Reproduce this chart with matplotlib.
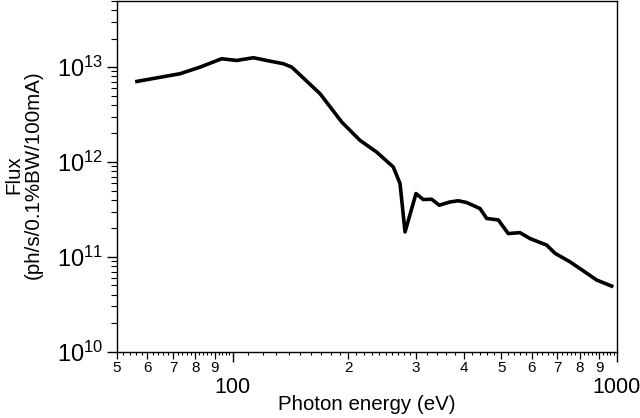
import matplotlib
matplotlib.use("Agg")
import matplotlib.pyplot as plt
import matplotlib.ticker as mticker
import numpy as np

plt.rcParams['font.family'] = ['Liberation Sans', 'DejaVu Sans']
plt.rcParams['mathtext.fontset'] = 'custom'
plt.rcParams['mathtext.rm'] = 'Liberation Sans'
plt.rcParams['mathtext.it'] = 'Liberation Sans:italic'

# photon energy (eV) and flux (ph/s/0.1%BW/100mA)
energy = [56.4, 73.0, 82.3, 93.7, 102.5, 113.3, 125.2, 135.6, 142.6, 168.9,
          192.3, 214.6, 237.2, 261.9, 272.7, 281.0, 300.1, 313.5, 329.6, 345.0,
          367.9, 386.6, 406.5, 440.3, 458.3, 491.2, 521.5, 559.3, 593.8, 656.5,
          690.0, 754.7, 817.5, 885.8, 930.8, 968.7]
flux = [7.07e12, 8.52e12, 1.0e13, 1.226e13, 1.176e13, 1.256e13, 1.157e13, 1.086e13,
        1.0e13, 5.25e12, 2.64e12, 1.69e12, 1.27e12, 8.86e11, 5.93e11, 1.83e11,
        4.65e11, 4.02e11, 4.05e11, 3.50e11, 3.79e11, 3.90e11, 3.74e11, 3.23e11,
        2.54e11, 2.45e11, 1.76e11, 1.80e11, 1.56e11, 1.33e11, 1.09e11, 8.86e10,
        7.12e10, 5.69e10, 5.25e10, 4.92e10]

x_major = [100, 1000]
x_major_labels = ['100', '1000']
x_mid = [50, 60, 70, 80, 90, 200, 300, 400, 500, 600, 700, 800, 900]
x_mid_labels = ['5', '6', '7', '8', '9', '2', '3', '4', '5', '6', '7', '8', '9']

fig = plt.figure(figsize=(6.4, 4.18), dpi=100)
ax = fig.add_axes([0.1825, 0.1586, 0.7815, 0.8394])

ax.plot(energy, flux, color='black', lw=2.6, solid_joinstyle='round')

ax.set_xscale('log')
ax.set_yscale('log')
ax.set_xlim(50, 1000)
ax.set_ylim(1e10, 5e13)

# x axis: big labels on decades, small digits in between
ax.xaxis.set_major_locator(mticker.FixedLocator(x_major))
ax.xaxis.set_major_formatter(mticker.FixedFormatter(x_major_labels))
ax.xaxis.set_minor_locator(mticker.FixedLocator(x_mid))
ax.xaxis.set_minor_formatter(mticker.FixedFormatter(x_mid_labels))
ax.tick_params(axis='x', which='major', direction='out', length=7, width=1,
               labelsize=15.5, pad=11)
ax.tick_params(axis='x', which='minor', direction='out', length=5, width=0.9,
               labelsize=11, pad=1.5)

# tiny subdivision ticks
fine = [v for v in list(np.arange(52, 100, 2)) + list(np.arange(110, 300, 10))
        + list(np.arange(320, 1000, 20)) if v not in x_mid and v not in x_major]
sec = ax.secondary_xaxis('bottom')
sec.set_xticks(fine)
sec.set_xticklabels([])
sec.xaxis.set_minor_locator(mticker.NullLocator())
sec.tick_params(axis='x', which='major', direction='out', length=2.5, width=0.8)
sec.spines['bottom'].set_visible(False)

# y axis: decades
ax.yaxis.set_major_locator(mticker.LogLocator(base=10, numticks=10))
ax.yaxis.set_major_formatter(mticker.FuncFormatter(
    lambda v, p: r'$10^{%d}$' % round(np.log10(v))))
ax.yaxis.set_minor_locator(mticker.LogLocator(base=10, subs=np.arange(2, 10), numticks=20))
ax.yaxis.set_minor_formatter(mticker.NullFormatter())
ax.tick_params(axis='y', which='major', direction='out', length=7, width=1,
               labelsize=17, pad=3)
ax.tick_params(axis='y', which='minor', direction='out', length=4, width=0.8)

for s in ax.spines.values():
    s.set_linewidth(1.0)

ax.set_xlabel('Photon energy (eV)', fontsize=14.8)
ax.xaxis.set_label_coords(0.5, -0.122)
fig.text(0.037, 0.581, 'Flux\n(ph/s/0.1%BW/100mA)', rotation=90, ha='center',
         va='center', multialignment='center', fontsize=14.8, linespacing=1.05)

fig.savefig('out.png', dpi=100)
